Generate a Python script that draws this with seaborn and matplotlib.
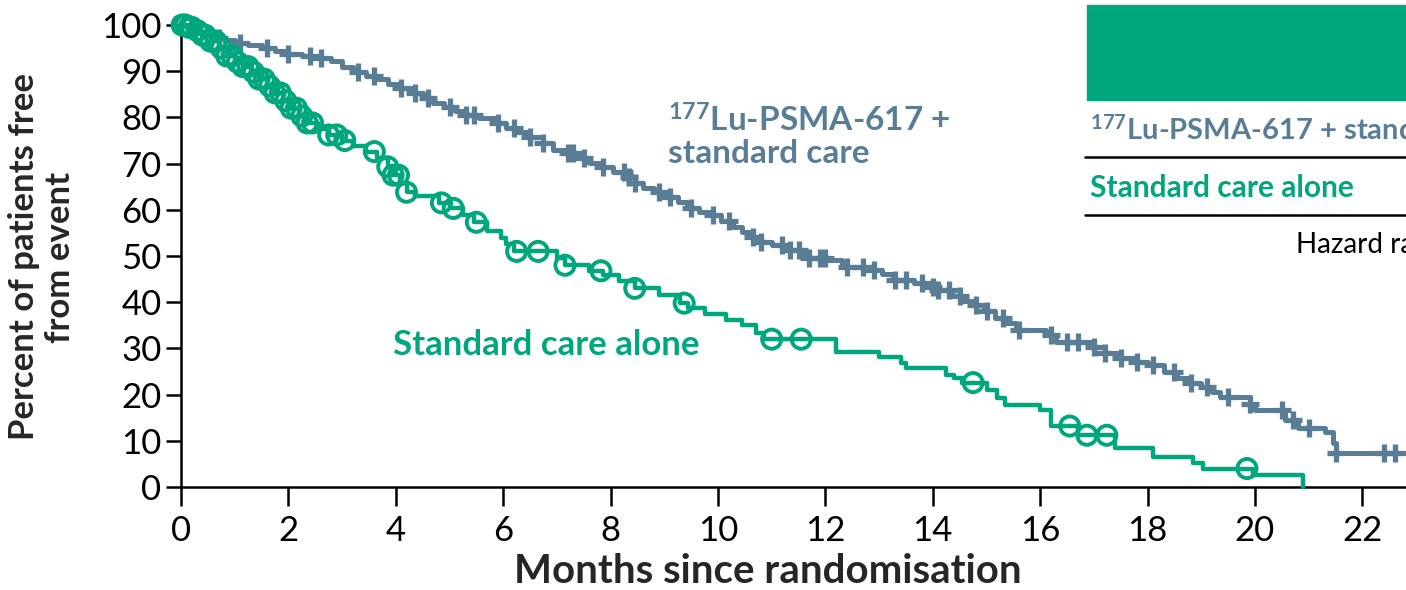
import numpy as np
import pandas as pd
import matplotlib
matplotlib.use("Agg")
import matplotlib.pyplot as plt
import seaborn as sns

# ---------------- data ----------------
lu_times = [0, 0.15, 0.3, 0.45, 0.6, 0.8, 1.0, 1.25, 1.5, 1.75, 2.0, 2.25, 2.5, 2.8, 3.0,
            3.2, 3.45, 3.65, 3.85, 4.05, 4.3, 4.5, 4.7, 4.9, 5.1, 5.3, 5.55, 5.85, 6.05,
            6.26, 6.5, 6.75, 6.93, 7.15, 7.4, 7.6, 7.8, 8.05, 8.3, 8.45, 8.6, 8.8, 9.05,
            9.25, 9.42, 9.65, 9.85, 10.05, 10.28, 10.45, 10.6, 10.75, 11.0, 11.35, 11.55,
            11.7, 12.05, 12.3, 12.75, 13.05, 13.25, 13.65, 13.85, 14.05, 14.35, 14.55,
            14.75, 14.95, 15.15, 15.35, 15.55, 16.1, 16.3, 16.95, 17.2, 17.5, 17.75, 18.0,
            18.3, 18.55, 18.8, 19.0, 19.2, 19.35, 19.9, 20.0, 20.55, 20.8, 21.3, 21.45,
            21.5, 22.9]
lu_surv = [100, 99.3, 98.5, 97.8, 97.2, 96.7, 96.2, 95.6, 95.0, 94.4, 93.8, 93.2, 92.8, 92.3,
           91.0, 89.9, 89.0, 88.3, 87.3, 86.3, 85.2, 84.2, 83.2, 82.3, 81.4, 80.5, 79.8,
           78.8, 77.8, 76.8, 75.8, 74.4, 73.0, 72.2, 71.2, 70.2, 69.3, 68.2, 67.1, 65.8,
           64.7, 63.8, 62.8, 61.6, 60.4, 59.6, 58.9, 57.6, 56.3, 55.2, 54.1, 53.0, 52.4,
           51.3, 50.4, 49.6, 49.1, 47.6, 47.0, 46.2, 44.8, 44.2, 43.3, 42.6, 41.3, 40.3,
           39.4, 38.0, 36.6, 35.6, 34.0, 32.8, 31.4, 30.3, 29.0, 28.0, 27.1, 26.4, 24.9,
           23.6, 22.6, 21.6, 20.5, 19.5, 18.0, 16.7, 14.5, 12.8, 11.9, 9.5, 7.4, 7.4]
lu_censor = [0.7, 1.1, 1.6, 2.0, 2.4, 2.6, 3.3, 3.6, 4.1, 4.35, 4.6, 5.0, 5.3, 5.45, 5.9,
             6.2, 6.5, 6.75, 7.2, 7.3, 7.5, 7.85, 8.25, 8.35, 8.45, 8.9, 9.1, 9.5, 9.9,
             10.2, 10.65, 10.8, 11.2, 11.35, 11.5, 11.7, 11.9, 12.0, 12.4, 12.7, 12.9,
             13.3, 13.5, 13.8, 14.0, 14.1, 14.3, 14.5, 14.8, 15.0, 15.3, 15.6, 16.2, 16.5,
             16.7, 17.0, 17.2, 17.5, 17.8, 18.1, 18.5, 18.8, 19.1, 19.5, 19.9, 20.5, 20.7,
             21.0, 21.5, 22.4, 22.6]

sc_times = [0, 0.1, 0.25, 0.4, 0.55, 0.7, 0.85, 1.0, 1.15, 1.3, 1.45, 1.6, 1.75, 1.9, 2.05,
            2.2, 2.35, 2.55, 2.75, 3.0, 3.2, 3.45, 3.65, 3.85, 3.95, 4.08, 4.2, 4.35, 4.8,
            5.0, 5.25, 5.45, 5.7, 5.95, 6.05, 6.2, 7.0, 7.15, 7.6, 7.85, 8.15, 8.45, 8.9,
            9.3, 9.45, 9.75, 10.15, 10.45, 10.7, 10.85, 12.2, 13.0, 13.4, 13.5, 14.25, 14.4,
            14.55, 15.0, 15.2, 15.35, 16.0, 16.2, 16.7, 17.4, 18.1, 18.85, 19.03, 19.96,
            20.9, 20.9]
sc_surv = [100, 99.5, 98.8, 97.8, 96.5, 95.0, 93.3, 92.0, 91.0, 89.8, 88.3, 86.8, 85.3, 83.6,
           82.0, 80.3, 78.8, 77.5, 76.2, 75.0, 73.8, 72.6, 71.2, 69.3, 67.5, 65.8, 63.8,
           63.0, 61.5, 60.3, 58.8, 57.3, 55.5, 54.0, 52.5, 51.0, 49.5, 48.0, 46.8, 45.8,
           44.5, 43.0, 41.5, 39.8, 38.8, 37.5, 36.2, 35.0, 33.3, 32.0, 29.3, 28.2, 26.8,
           25.7, 24.2, 23.6, 22.6, 21.0, 19.3, 17.7, 16.6, 13.2, 11.2, 8.4, 6.6, 5.1, 4.0,
           2.6, 2.6, 0]
sc_censor = [0.02, 0.08, 0.15, 0.2, 0.3, 0.4, 0.45, 0.55, 0.65, 0.75, 0.85, 0.95, 1.05,
             1.15, 1.25, 1.35, 1.45, 1.55, 1.65, 1.75, 1.85, 1.95, 2.05, 2.15, 2.25, 2.35,
             2.45, 2.75, 2.9, 3.05, 3.6, 3.85, 3.95, 4.05, 4.2, 4.85, 5.07, 5.5, 6.25, 6.65,
             7.15, 7.82, 8.45, 9.37, 11.0, 11.55, 14.75, 16.55, 16.87, 17.24, 19.85]

x_ticks = [0, 2, 4, 6, 8, 10, 12, 14, 16, 18, 20, 22]
y_ticks = [0, 10, 20, 30, 40, 50, 60, 70, 80, 90, 100]

lu_label = "$^{177}$Lu-PSMA-617 +\nstandard care"
sc_label = "Standard care alone"
table_lu = "$^{177}$Lu-PSMA-617 + standard care"
hazard_text = "Hazard ratio"
x_title = "Months since randomisation"
y_title = "Percent of patients free\nfrom event"

BLUE = "#5a7d96"
GREEN = "#00a67e"

# ---------------- style ----------------
sns.set_theme(style="ticks")
FONT = "Lato"
plt.rcParams["font.family"] = [FONT, "DejaVu Sans"]
plt.rcParams["mathtext.fontset"] = "custom"
plt.rcParams["mathtext.rm"] = FONT + ":bold"
plt.rcParams["mathtext.it"] = FONT + ":bold"
plt.rcParams["mathtext.bf"] = FONT + ":bold"


def censor_y(times, surv, cens):
    t = np.asarray(times)
    s = np.asarray(surv)
    idx = np.searchsorted(t, np.asarray(cens), side="right") - 1
    return s[idx]


fig = plt.figure(figsize=(14.06, 5.90), dpi=100)
ax = fig.add_axes([181 / 1406, 103 / 590, 1225 / 1406, 462 / 590])

lu_df = pd.DataFrame({"t": lu_times, "s": lu_surv})
sc_df = pd.DataFrame({"t": sc_times, "s": sc_surv})

sns.lineplot(data=lu_df, x="t", y="s", ax=ax, color=BLUE, lw=3.6, sort=False,
             estimator=None, drawstyle="steps-post", clip_on=False, zorder=3)
sns.lineplot(data=sc_df, x="t", y="s", ax=ax, color=GREEN, lw=3.2, sort=False,
             estimator=None, drawstyle="steps-post", clip_on=False, zorder=4)

lu_c = pd.DataFrame({"t": lu_censor, "s": censor_y(lu_times, lu_surv, lu_censor)})
sc_c = pd.DataFrame({"t": sc_censor, "s": censor_y(sc_times, sc_surv, sc_censor)})

sns.scatterplot(data=lu_c, x="t", y="s", ax=ax, marker="+", s=160, color=BLUE,
                linewidth=3.8, clip_on=False, zorder=3)
sns.scatterplot(data=sc_c, x="t", y="s", ax=ax, marker="o", s=190, facecolors="none",
                edgecolor=GREEN, linewidth=2.8, clip_on=False, zorder=5)

ax.set_xlim(0, 1225 / 53.7)
ax.set_ylim(0, 100)
ax.set_xticks(x_ticks)
ax.set_yticks(y_ticks)
ax.tick_params(axis="both", labelsize=25, width=1.8, color="black", labelcolor="black")
ax.tick_params(axis="x", length=14, pad=6)
ax.tick_params(axis="y", length=11, pad=3)
sns.despine(ax=ax)
for sp in ("left", "bottom"):
    ax.spines[sp].set_linewidth(1.8)
    ax.spines[sp].set_color("black")

ax.set_xlabel(x_title, fontsize=29, fontweight="bold")
ax.xaxis.set_label_coords((768 - 181) / 1225, -(553 - 487) / 462)
ax.set_ylabel(y_title, fontsize=25, fontweight="bold", linespacing=1.15)
ax.yaxis.set_label_coords((76 - 181) / 1225, (487 - 257) / 462)

# in-plot labels
ax.text(9.07, 76, lu_label, color=BLUE, fontsize=24, fontweight="bold",
        ha="left", va="center", linespacing=1.1)
ax.text(3.95, 30.7, sc_label, color=GREEN, fontsize=25, fontweight="bold",
        ha="left", va="center")

# table fragment at top right (cut by the figure edge, as in the reference)
fig.patches.append(plt.Rectangle((1087 / 1406, 1 - 100 / 590), 1, 95 / 590,
                                 transform=fig.transFigure, color=GREEN, zorder=1))
fig.text(1090 / 1406, 1 - 130 / 590, table_lu, color=BLUE, fontsize=21,
         fontweight="bold", ha="left", va="center")
fig.text(1090 / 1406, 1 - 188 / 590, sc_label, color=GREEN, fontsize=21.5,
         fontweight="bold", ha="left", va="center")
for yy in (157, 215):
    fig.add_artist(plt.Line2D([1085 / 1406, 1], [1 - yy / 590] * 2,
                              transform=fig.transFigure, color="black", lw=1.8))
fig.text(1296 / 1406, 1 - 245 / 590, hazard_text, color="black", fontsize=20,
         ha="left", va="center")

fig.savefig("out.png", dpi=100)
